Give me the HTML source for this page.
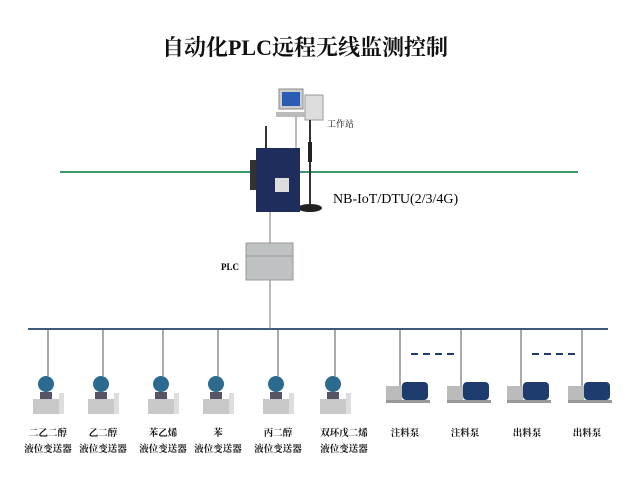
<!DOCTYPE html><html><head><meta charset="utf-8"><style>body{margin:0;background:#fff}svg{display:block}text{font-family:"Liberation Serif","Noto Serif CJK SC",serif}</style></head><body>
<svg width="640" height="480" viewBox="0 0 640 480">
<text x="305" y="55" text-anchor="middle" font-size="22" font-weight="bold" fill="#111">自动化PLC远程无线监测控制</text>
<line x1="60" y1="172" x2="578" y2="172" stroke="#3a9a68" stroke-width="2"/>
<line x1="28" y1="329" x2="608" y2="329" stroke="#3d5a78" stroke-width="2"/>
<!-- computer -->
<rect x="279" y="89" width="24" height="20" fill="#ccc" stroke="#888"/><rect x="282" y="92" width="18" height="14" fill="#2a5bb5"/>
<rect x="305" y="95" width="18" height="25" fill="#ddd" stroke="#999"/>
<rect x="276" y="112" width="30" height="5" fill="#bbb"/>
<text x="327" y="127" font-size="9">工作站</text>
<line x1="296" y1="117" x2="296" y2="150" stroke="#777"/>
<!-- antenna -->
<line x1="266" y1="126" x2="266" y2="150" stroke="#333" stroke-width="2"/>
<line x1="310" y1="120" x2="310" y2="205" stroke="#333" stroke-width="2"/>
<rect x="308" y="142" width="4" height="20" fill="#222"/>
<ellipse cx="310" cy="208" rx="12" ry="4" fill="#222"/>
<!-- DTU -->
<rect x="250" y="160" width="8" height="30" fill="#333"/>
<rect x="256" y="148" width="44" height="64" fill="#1e2d5c"/>
<rect x="275" y="178" width="14" height="14" fill="#ddd"/>
<text x="333" y="203" font-size="14">NB-IoT/DTU(2/3/4G)</text>
<line x1="270" y1="212" x2="270" y2="329" stroke="#777"/>
<!-- PLC -->
<rect x="246" y="243" width="47" height="37" fill="#bfc2c2" stroke="#999"/>
<line x1="246" y1="256" x2="293" y2="256" stroke="#999"/>
<text x="221" y="270" font-size="9" font-weight="bold">PLC</text>
<g stroke="#555">
<line x1="48" y1="329" x2="48" y2="376"/><line x1="103" y1="329" x2="103" y2="376"/><line x1="163" y1="329" x2="163" y2="376"/><line x1="218" y1="329" x2="218" y2="376"/><line x1="278" y1="329" x2="278" y2="376"/><line x1="335" y1="329" x2="335" y2="376"/>
<line x1="400" y1="329" x2="400" y2="388"/><line x1="461" y1="329" x2="461" y2="388"/><line x1="521" y1="329" x2="521" y2="388"/><line x1="582" y1="329" x2="582" y2="388"/>
</g>
<g id="t"><circle cx="46" cy="384" r="8" fill="#2c6a8f"/><rect x="40" y="392" width="12" height="7" fill="#556"/><rect x="33" y="399" width="26" height="15" fill="#c8c8c8"/><rect x="59" y="393" width="5" height="21" fill="#ddd"/></g>
<use href="#t" x="55"/><use href="#t" x="115"/><use href="#t" x="170"/><use href="#t" x="230"/><use href="#t" x="287"/>
<g id="p"><rect x="386" y="386" width="16" height="14" fill="#bbb"/><rect x="402" y="382" width="26" height="18" rx="4" fill="#1f3c6e"/><rect x="386" y="400" width="44" height="3" fill="#999"/></g>
<use href="#p" x="61"/><use href="#p" x="121"/><use href="#p" x="182"/>
<g stroke="#1f3c6e" stroke-width="2" stroke-dasharray="7,5"><line x1="411" y1="354" x2="456" y2="354"/><line x1="532" y1="354" x2="578" y2="354"/></g>
<g font-size="9.5" font-weight="bold" text-anchor="middle" fill="#111">
<text x="48" y="436">二乙二醇</text><text x="103" y="436">乙二醇</text><text x="163" y="436">苯乙烯</text><text x="218" y="436">苯</text><text x="278" y="436">丙二醇</text><text x="344" y="436">双环戊二烯</text>
<text x="48" y="452">液位变送器</text><text x="103" y="452">液位变送器</text><text x="163" y="452">液位变送器</text><text x="218" y="452">液位变送器</text><text x="278" y="452">液位变送器</text><text x="344" y="452">液位变送器</text>
<text x="405" y="436">注料泵</text><text x="465" y="436">注料泵</text><text x="527" y="436">出料泵</text><text x="587" y="436">出料泵</text>
</g>
</svg></body></html>
